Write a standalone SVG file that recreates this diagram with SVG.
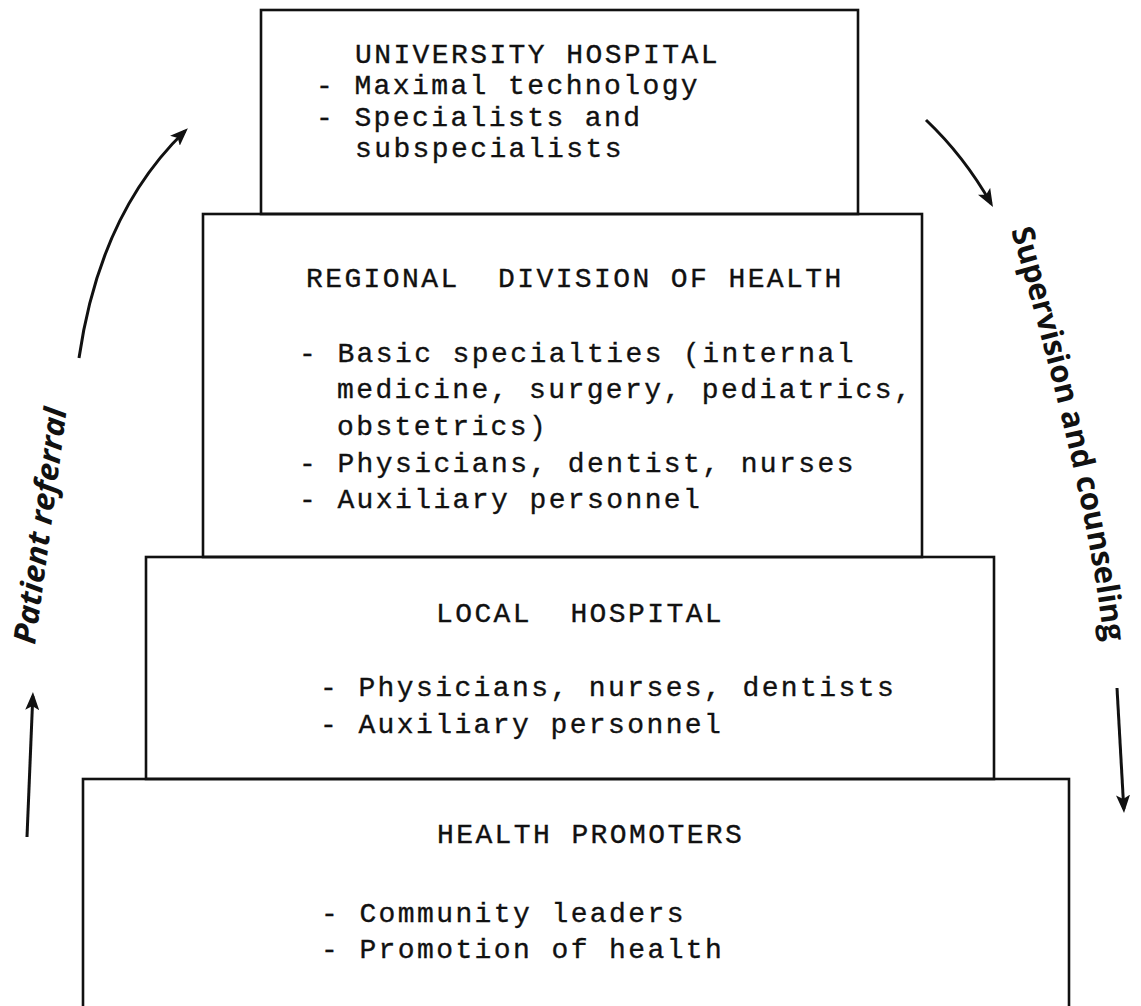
<svg xmlns="http://www.w3.org/2000/svg" width="1141" height="1006" viewBox="0 0 1141 1006" xml:space="preserve">
<style>
  .box { fill: none; stroke: #111; stroke-width: 2.6; }
  .mono { font-family: "Liberation Mono", "Courier New", monospace; font-size: 28px; letter-spacing: 2.4px; fill: #111; stroke: #111; stroke-width: 0.35; white-space: pre; }
  .lbl { font-family: "Open Sans", "DejaVu Sans", sans-serif; font-size: 31px; font-weight: 700; fill: #111; }
  .arr { fill: none; stroke: #111; stroke-width: 3; marker-end: url(#ah); }
</style>
<defs>
  <marker id="ah" viewBox="0 0 18 14" refX="14" refY="7" markerWidth="18" markerHeight="14" markerUnits="userSpaceOnUse" orient="auto">
    <path d="M0,0 L18,7 L0,14 L4,7 Z" fill="#111"/>
  </marker>
  <path id="supPath" d="M1011,230 Q1092,508 1106,662"/>
</defs>
<rect width="1141" height="1006" fill="#fff"/>

<g id="university">
  <rect class="box" x="261" y="10" width="597" height="204"/>
  <text class="mono" x="355" y="63">UNIVERSITY HOSPITAL</text>
  <text class="mono" x="316" y="94">- Maximal technology</text>
  <text class="mono" x="316" y="126">- Specialists and</text>
  <text class="mono" x="355" y="157">subspecialists</text>
</g>

<g id="regional">
  <rect class="box" x="203" y="214" width="719" height="343"/>
  <text class="mono" x="306" y="287">REGIONAL  DIVISION OF HEALTH</text>
  <text class="mono" x="299" y="362">- Basic specialties (internal</text>
  <text class="mono" x="337" y="398">medicine, surgery, pediatrics,</text>
  <text class="mono" x="337" y="435">obstetrics)</text>
  <text class="mono" x="299" y="472">- Physicians, dentist, nurses</text>
  <text class="mono" x="299" y="508">- Auxiliary personnel</text>
</g>

<g id="local">
  <rect class="box" x="146" y="557" width="848" height="222"/>
  <text class="mono" x="436" y="622">LOCAL  HOSPITAL</text>
  <text class="mono" x="320" y="696">- Physicians, nurses, dentists</text>
  <text class="mono" x="320" y="733">- Auxiliary personnel</text>
</g>

<g id="promoters">
  <rect class="box" x="83" y="779" width="986" height="240"/>
  <text class="mono" x="437" y="843">HEALTH PROMOTERS</text>
  <text class="mono" x="321" y="922">- Community leaders</text>
  <text class="mono" x="321" y="958">- Promotion of health</text>
</g>

<g id="connectors">
  <path class="arr" d="M79,358 Q100,213 185,131"/>
  <path class="arr" d="M27,837 L32.8,696"/>
  <path class="arr" d="M926,120 Q964,156 991,203.5"/>
  <path class="arr" d="M1117,688 L1123.8,809"/>
</g>

<g id="labels">
  <text class="lbl" font-style="italic" x="35" y="645" transform="rotate(-82.3 35 645)" textLength="238" lengthAdjust="spacingAndGlyphs">Patient referral</text>
  <text class="lbl"><textPath href="#supPath">Supervision and counseling</textPath></text>
</g>
</svg>
